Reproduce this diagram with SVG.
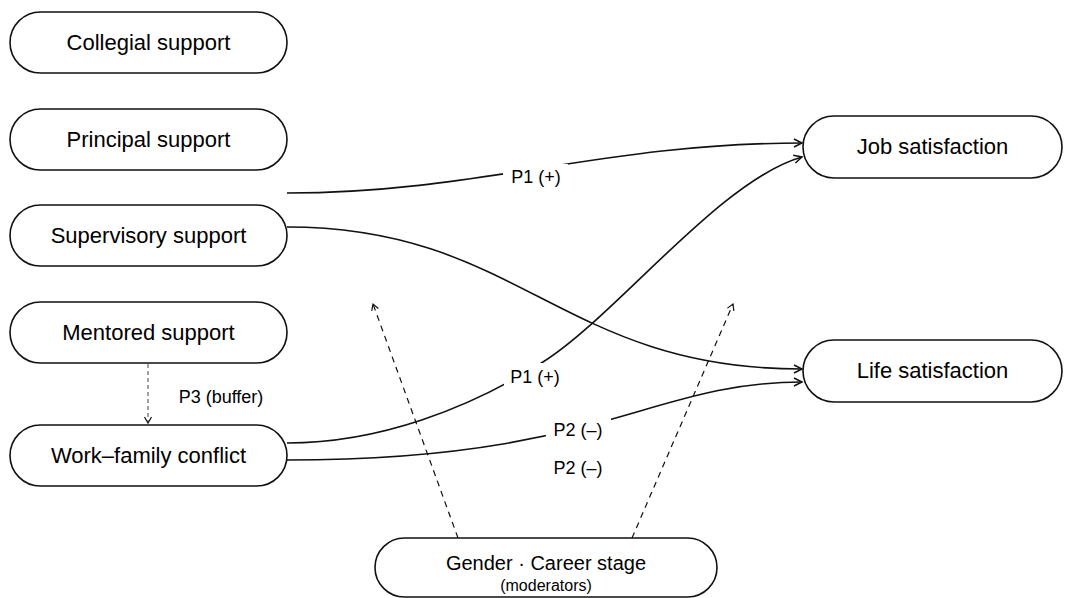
<svg xmlns="http://www.w3.org/2000/svg" width="1069" height="598" viewBox="0 0 1069 598">
<defs>
<style>
.node rect{fill:#fff;stroke:#111;stroke-width:1.6}
.node text{font-family:"Liberation Sans",Arial,sans-serif;font-size:22px;fill:#000;text-anchor:middle}
.edge{fill:none;stroke:#111;stroke-width:1.6}
.dash{fill:none;stroke:#111;stroke-width:1.2;stroke-dasharray:6 5}
.dash3{fill:none;stroke:#444;stroke-width:1;stroke-dasharray:4 3}
.lbl{font-family:"Liberation Sans",Arial,sans-serif;font-size:18px;fill:#000;text-anchor:middle}
.bg{fill:#fff}
</style>
<marker id="arr" markerUnits="userSpaceOnUse" markerWidth="12" markerHeight="12" refX="9" refY="5" orient="auto">
<path d="M1,1 L9,5 L1,9" fill="none" stroke="#111" stroke-width="1.5"/>
</marker>
<marker id="arrs" markerUnits="userSpaceOnUse" markerWidth="12" markerHeight="12" refX="8" refY="5" orient="auto">
<path d="M2,1.5 L8,5 L2,8.5" fill="none" stroke="#111" stroke-width="1.2"/>
</marker>
</defs>
<rect width="1069" height="598" fill="#fff"/>
<g id="connectors">
<path class="edge" d="M287,193 C480,193 600,143 802,143" marker-end="url(#arr)"/>
<path class="edge" d="M287,227 C520,227 560,369 802,369" marker-end="url(#arr)"/>
<path class="edge" d="M287,443 C380,443 470,408 543,362 C616,316 720,180 802,157" marker-end="url(#arr)"/>
<path class="edge" d="M287,460 C600,460 650,382 802,382" marker-end="url(#arr)"/>
<path class="dash3" d="M148,364 L148,423" marker-end="url(#arrs)"/>
<path class="dash" d="M458,538 L373,304" marker-end="url(#arrs)"/>
<path class="dash" d="M632,538 L733,304" marker-end="url(#arrs)"/>
<rect class="bg" x="503" y="164" width="65" height="26"/>
<text class="lbl" x="536" y="183">P1 (+)</text>
<rect class="bg" x="504" y="363" width="62" height="27"/>
<text class="lbl" x="535" y="383">P1 (+)</text>
<rect class="bg" x="546" y="417" width="65" height="26"/>
<text class="lbl" x="578" y="436">P2 (–)</text>
<text class="lbl" x="578" y="474">P2 (–)</text>
<text class="lbl" x="221" y="403">P3 (buffer)</text>
</g>
<g id="collegial" class="node"><rect x="10" y="12" width="277" height="61" rx="30.5"/><text x="148.5" y="50">Collegial support</text></g>
<g id="principal" class="node"><rect x="10" y="109" width="277" height="61" rx="30.5"/><text x="148.5" y="147">Principal support</text></g>
<g id="supervisory" class="node"><rect x="10" y="205" width="277" height="61" rx="30.5"/><text x="148.5" y="243">Supervisory support</text></g>
<g id="mentored" class="node"><rect x="10" y="302" width="277" height="61" rx="30.5"/><text x="148.5" y="340">Mentored support</text></g>
<g id="workfamily" class="node"><rect x="10" y="425" width="277" height="61" rx="30.5"/><text x="148.5" y="463">Work–family conflict</text></g>
<g id="job" class="node"><rect x="803" y="116" width="259" height="62" rx="31"/><text x="932.5" y="154">Job satisfaction</text></g>
<g id="life" class="node"><rect x="803" y="340" width="259" height="62" rx="31"/><text x="932.5" y="378">Life satisfaction</text></g>
<g id="moderators" class="node"><rect x="375" y="538" width="342" height="59" rx="29.5"/><text x="546" y="570" style="font-size:20px">Gender · Career stage</text><text x="546" y="591" style="font-size:16px">(moderators)</text></g>
</svg>
